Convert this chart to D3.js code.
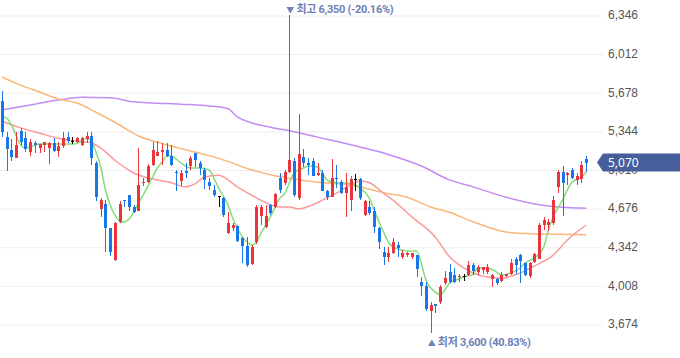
<!DOCTYPE html>
<html>
<head>
<meta charset="utf-8">
<script src="https://cdn.jsdelivr.net/npm/d3@7"></script>
<style>
  body { margin: 0; background: #fff; }
  svg { display: block; font-family: "Noto Sans", "Noto Sans CJK KR", sans-serif; }
  .grid line { stroke: #eeeeee; }
  .grid path, .yaxis path { display: none; }
  .mark { font-family: Roboto, "Noto Sans CJK KR", sans-serif; }
</style>
</head>
<body>
<svg id="chart" width="680" height="358"></svg>
<script>
// daily candles, oldest first
var opens = [5600,5290,5180,5110,5340,5280,5160,5240,5200,5220, 5200,5240,5170,5210,5290,5260,5250,5220,5270,5300,
  5070,4670,4710,4500,4230,4560,4750,4790,4690,4650, 4890,4900,5050,5130,5160,5180,5130,4990,4910,5000,
  5040,5150,5070,5010,4900,4830,4780,4760,4460,4500, 4520,4420,4350,4190,4380,4610,4510,4700,4690,4940,
  4890,4990,5080,4760,5120,5070,5080,4960,4980,4820, 4770,4940,4900,4810,4750,4930,4930,4620,4690,4650,
  4500,4300,4250,4290,4360,4250,4270,4250,4270,4040, 4000,3790,3850,3860,4030,4120,4100,4080,4090,4100,
  4180,4120,4140,4120,4060,4060,4050,4090,4110,4240, 4270,4200,4090,4210,4240,4530,4530,4550,4860,4990,
  4960,5010,4920,4930,5100];
var highs = [5690,5330,5270,5330,5370,5330,5270,5260,5230,5250, 5250,5280,5250,5330,5330,5290,5290,5290,5330,5330,
  5080,4760,4750,4500,4560,4740,4750,4790,4700,5200, 4940,5060,5250,5260,5240,5240,5220,5010,5010,5070,
  5130,5150,5080,5020,4940,4880,4780,4770,4640,4550, 4530,4430,4430,4360,4700,4700,4700,4710,4810,4980,
  5010,6350,5110,5490,5190,5110,5110,5070,5010,4830, 5100,5050,4920,4980,4950,4970,4940,4750,4740,4690,
  4510,4340,4340,4420,4380,4310,4300,4290,4270,4080, 4040,3860,3850,4010,4130,4190,4160,4110,4110,4220,
  4200,4180,4170,4190,4110,4070,4120,4110,4240,4250, 4280,4200,4210,4290,4550,4600,4580,4780,5010,5040,
  4990,5020,4980,5080,5130];
var lows = [5290,5000,5080,5110,5220,5160,5130,5150,5150,5160, 5060,5160,5120,5200,5240,5230,5240,5210,5240,5050,
  4740,4600,4300,4260,4220,4550,4690,4650,4630,4650, 4870,4890,5040,5130,5050,5120,5040,4820,4870,4940,
  5010,5030,4960,4840,4830,4770,4690,4600,4450,4480, 4380,4200,4170,4180,4370,4530,4500,4620,4680,4810,
  4880,4980,4770,4750,5030,4960,4950,4950,4820,4750, 4770,4850,4800,4600,4650,4820,4750,4610,4620,4460,
  4320,4180,4210,4280,4250,4240,4250,4240,4080,3920, 3790,3600,3770,3850,4010,4030,4030,4040,4050,4090,
  4100,4100,4110,4110,3990,4010,4040,4080,4100,4110, 4030,4090,4070,4200,4240,4490,4480,4530,4810,4610,
  4880,4930,4880,4890,4990];
var closes = [5330,5190,5120,5220,5250,5190,5250,5220,5230,5250, 5240,5170,5210,5280,5260,5260,5280,5280,5300,5110,
  4770,4750,4500,4300,4550,4710,4740,4690,4640,4880, 4900,5040,5180,5160,5180,5130,5050,4980,4980,4980,
  5110,5090,5020,4920,4870,4790,4780,4620,4550,4530, 4390,4350,4180,4340,4690,4690,4610,4630,4800,4830,
  4990,5090,4790,5140,5070,5050,4950,4980,4820,4770, 4940,4930,4810,4860,4930,4930,4760,4740,4630,4510,
  4380,4250,4290,4380,4330,4290,4290,4290,4150,4000, 3800,3840,3830,3990,4070,4040,4040,4090,4090,4180,
  4130,4170,4170,4170,4100,4030,4100,4110,4200,4180, 4220,4100,4200,4280,4530,4570,4560,4750,4990,4890,
  4980,4940,4950,5050,5070];

// moving averages: [candle index, value]
var ma5 = [[0,5473],[1,5455],[2,5400],[3,5308],[4,5222],[5,5196],[6,5205],[8,5230],[10,5230],[12,5230],[15,5230],
  [17,5256],[18,5282],[19,5256],[20,5160],[21,5032],[22,4833],[23,4703],[24,4616],[25,4565],[26,4556],[27,4582],
  [28,4642],[29,4720],[30,4790],[31,4867],[32,4945],[33,5023],[34,5075],[35,5127],[36,5127],[37,5101],[38,5066],
  [39,5040],[40,5023],[42,5023],[44,5006],[45,4936],[46,4850],[48,4703],[49,4590],[50,4500],[52,4383],[53,4357],
  [54,4383],[55,4460],[57,4599],[58,4686],[59,4763],[60,4800],[61,4893],[62,4980],[64,5023],[65,5040],[67,5032],
  [68,4980],[69,4919],[70,4902],[72,4893],[73,4893],[75,4876],[76,4850],[78,4760],[79,4660],[80,4560],[81,4470],
  [82,4383],[83,4340],[85,4314],[86,4305],[88,4305],[89,4201],[90,4054],[92,3950],[93,3925],[94,3968],[95,4028],
  [97,4063],[98,4080],[100,4106],[101,4158],[103,4158],[105,4123],[106,4097],[108,4115],[110,4158],[111,4201],
  [113,4245],[115,4340],[116,4487],[117,4599],[119,4746],[120,4833],[121,4902],[123,4945],[124,4988]];
var ma20 = [[0,5430],[4,5370],[8,5325],[12,5280],[17,5250],[19,5240],[21,5195],[24,5090],[28,4980],[33,4920],
  [36,4895],[39,4860],[41,4885],[43,4945],[46,4960],[50,4860],[54,4765],[57,4705],[59,4685],[61,4685],[63,4670],
  [66,4705],[68,4745],[71,4805],[74,4875],[76,4910],[78,4895],[81,4805],[83,4745],[87,4600],[92,4425],[95,4255],
  [98,4160],[100,4115],[103,4080],[106,4070],[110,4115],[113,4175],[117,4270],[120,4400],[124,4530]];
var ma60 = [[0,5810],[4,5740],[8,5680],[12,5620],[16,5585],[20,5505],[25,5395],[29,5300],[34,5235],[39,5180],
  [44,5130],[48,5080],[52,5020],[57,4965],[61,4935],[67,4900],[74,4875],[81,4810],[86,4770],[91,4686],[95,4640],
  [100,4558],[107,4470],[112,4455],[118,4450],[124,4445]];
var ma120 = [[0,5525],[7,5575],[12,5610],[17,5635],[23,5630],[28,5595],[32,5585],[38,5575],[44,5560],[48,5535],
  [50,5465],[57,5375],[61,5345],[67,5290],[76,5205],[82,5140],[89,5040],[95,4920],[100,4860],[107,4770],
  [114,4705],[118,4685],[124,4675]];

var yTicks = [3674, 4008, 4342, 4676, 5010, 5344, 5678, 6012, 6346];

var maLines = [
  { data: ma120, color: "#c38cf4" },
  { data: ma60, color: "#fbb77a" },
  { data: ma20, color: "#fb9a9a" },
  { data: ma5, color: "#85dc78" }
];

var svg = d3.select("#chart");
var gridRight = 603;

var xScale = d3.scaleBand()
  .domain(d3.range(closes.length))
  .range([-1.4, 589.4])
  .padding(0.36);

var yScale = d3.scaleLinear()
  .domain([3674, 6346])
  .range([324, 15]);

function cx(i) { return xScale(i) + xScale.bandwidth() / 2; }

// gridlines
svg.append("g")
  .attr("class", "grid")
  .attr("transform", "translate(" + gridRight + ",0.5)")
  .call(d3.axisLeft(yScale).tickValues(yTicks).tickSize(gridRight).tickFormat(""));

// price labels on the right
svg.append("g")
  .attr("class", "yaxis")
  .attr("transform", "translate(" + gridRight + ",0)")
  .call(d3.axisRight(yScale).tickValues(yTicks).tickSize(0).tickPadding(5).tickFormat(d3.format(",")))
  .selectAll("text")
    .attr("fill", "#555")
    .attr("font-size", "12px");

// moving average lines
var line = d3.line()
  .x(function(d) { return cx(d[0]); })
  .y(function(d) { return yScale(d[1]); })
  .curve(d3.curveMonotoneX);

svg.append("g")
  .selectAll("path")
  .data(maLines)
  .enter()
  .append("path")
    .attr("d", function(d) { return line(d.data); })
    .attr("fill", "none")
    .attr("stroke", function(d) { return d.color; })
    .attr("stroke-width", 1.5);

// candles
var idx = d3.range(closes.length);
function candleColor(i) {
  if (closes[i] > opens[i]) return "#e8363c";
  if (closes[i] < opens[i]) return "#1776e8";
  return "#000";
}

var candles = svg.append("g").attr("shape-rendering", "crispEdges");

candles.selectAll(".wick")
  .data(idx)
  .enter()
  .append("line")
    .attr("x1", function(i) { return Math.round(cx(i)) + 0.5; })
    .attr("x2", function(i) { return Math.round(cx(i)) + 0.5; })
    .attr("y1", function(i) { return yScale(highs[i]); })
    .attr("y2", function(i) { return yScale(lows[i]); })
    .attr("stroke", candleColor)
    .attr("stroke-width", 1);

candles.selectAll(".body")
  .data(idx)
  .enter()
  .append("rect")
    .attr("x", function(i) { return Math.round(cx(i)) - 1; })
    .attr("width", 3)
    .attr("y", function(i) { return yScale(Math.max(opens[i], closes[i])); })
    .attr("height", function(i) {
      return Math.max(1, Math.abs(yScale(opens[i]) - yScale(closes[i])));
    })
    .attr("fill", candleColor);

// high / low markers
var hiIdx = d3.maxIndex(highs);
var loIdx = d3.minIndex(lows);
var last = closes[closes.length - 1];
var fmt = d3.format(",");

function marker(x, y, arrow, word, value) {
  var t = svg.append("text")
    .attr("class", "mark")
    .attr("x", x)
    .attr("y", y)
    .attr("dy", "0.35em")
    .attr("fill", "#6e80b8")
    .attr("font-size", "11px")
    .attr("font-weight", "bold")
    .attr("letter-spacing", "-0.3px");
  t.append("tspan").attr("font-size", "8px").text(arrow);
  t.append("tspan").text(" " + word + " " + fmt(value) + " (" + ((last - value) / value * 100).toFixed(2) + "%)");
}

marker(cx(hiIdx) - 3, 9, "▼", "최고", highs[hiIdx]);
marker(cx(loIdx) - 3, 342, "▲", "최저", lows[loIdx]);

// current price tag
var ly = yScale(last);
svg.append("path")
  .attr("d", "M597," + ly + "L603," + (ly - 9) + "L680," + (ly - 9) + "L680," + (ly + 9) + "L603," + (ly + 9) + "Z")
  .attr("fill", "#465f9b");

svg.append("text")
  .attr("x", 608)
  .attr("y", ly)
  .attr("dy", "0.35em")
  .attr("fill", "#fff")
  .attr("font-size", "12px")
  .text(fmt(last));
</script>
</body>
</html>
